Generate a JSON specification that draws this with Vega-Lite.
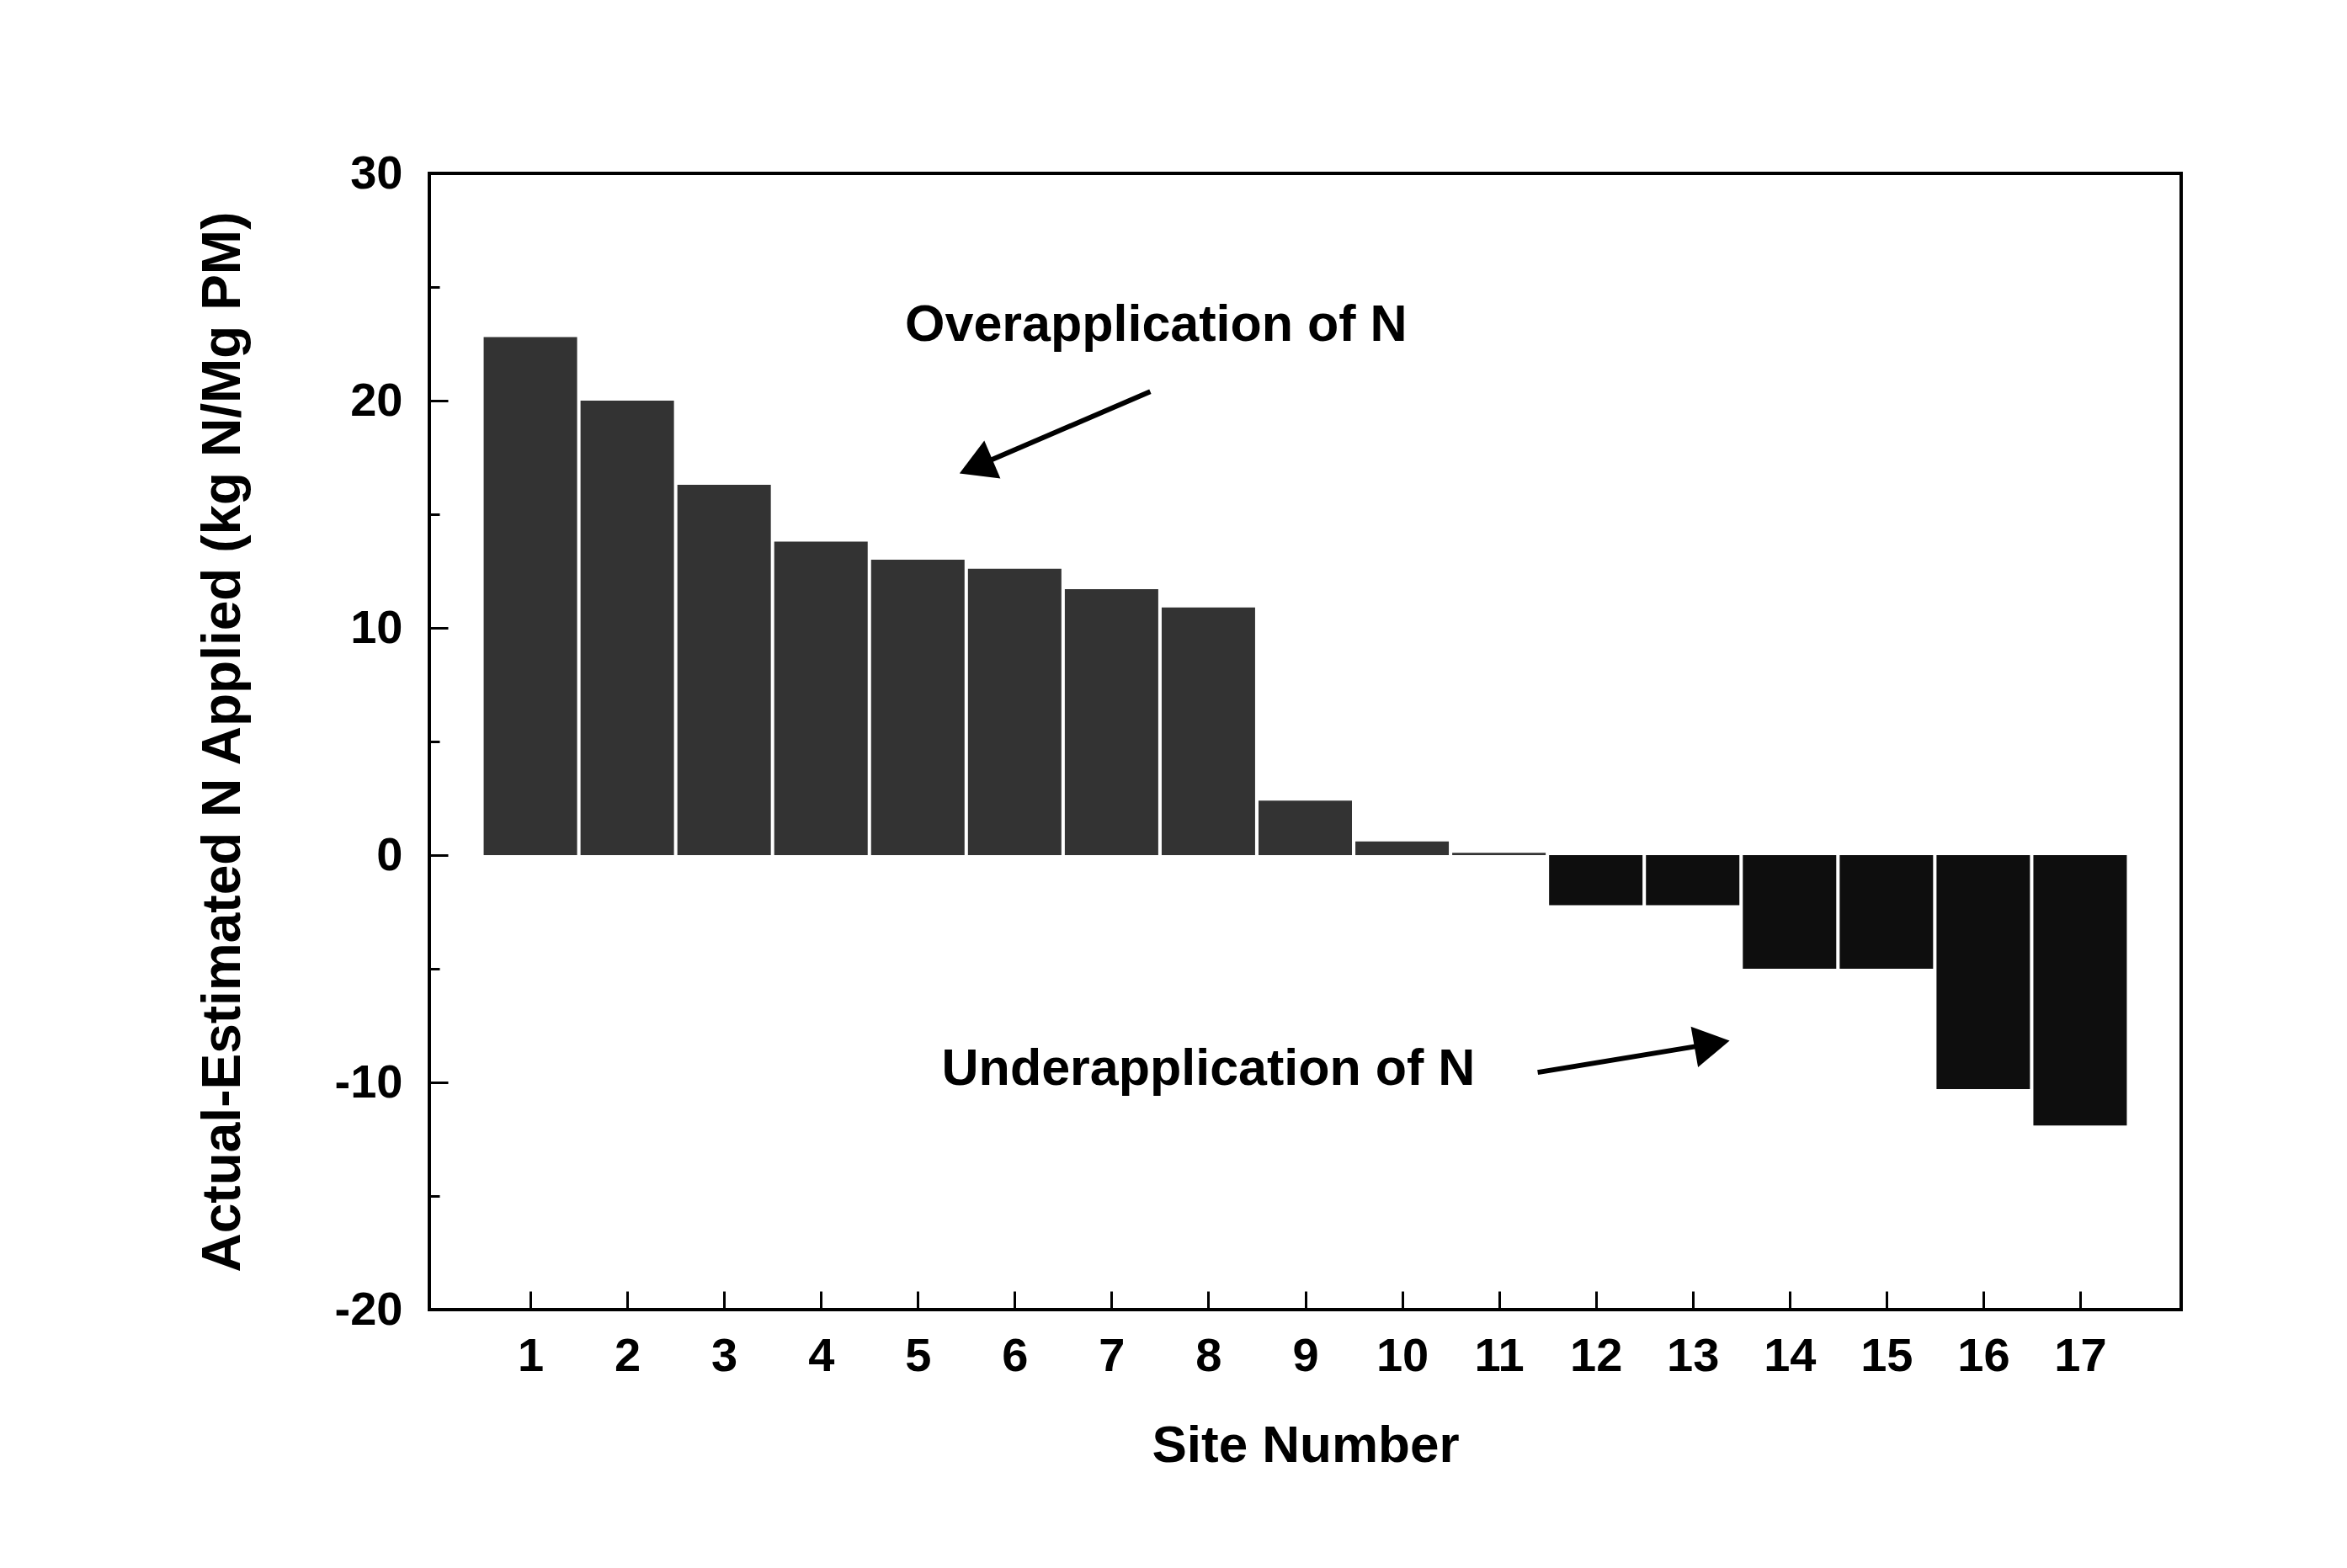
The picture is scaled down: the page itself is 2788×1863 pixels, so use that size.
{
  "$schema": "https://vega.github.io/schema/vega-lite/v6.json",
  "autosize": "none",
  "width": 2081,
  "height": 1350,
  "padding": {"left": 510, "top": 206, "right": 197, "bottom": 307},
  "background": "white",
  "config": {
    "view": {"stroke": "black", "strokeWidth": 4},
    "font": "Liberation Sans"
  },
  "datasets": {
    "sites": [
      {"site": 1, "value": 22.8},
      {"site": 2, "value": 20.0},
      {"site": 3, "value": 16.3},
      {"site": 4, "value": 13.8},
      {"site": 5, "value": 13.0},
      {"site": 6, "value": 12.6},
      {"site": 7, "value": 11.7},
      {"site": 8, "value": 10.9},
      {"site": 9, "value": 2.4},
      {"site": 10, "value": 0.6},
      {"site": 11, "value": 0.1},
      {"site": 12, "value": -2.2},
      {"site": 13, "value": -2.2},
      {"site": 14, "value": -5.0},
      {"site": 15, "value": -5.0},
      {"site": 16, "value": -10.3},
      {"site": 17, "value": -11.9}
    ]
  },
  "layer": [
    {
      "data": {"name": "sites"},
      "mark": {"type": "bar", "size": 111},
      "encoding": {
        "x": {
          "field": "site", "type": "quantitative",
          "scale": {"domain": [0, 18], "nice": false, "zero": false},
          "axis": {
            "values": [1,2,3,4,5,6,7,8,9,10,11,12,13,14,15,16,17],
            "format": "d",
            "domain": false,
            "grid": false,
            "tickSize": -22,
            "tickWidth": 3,
            "tickColor": "black",
            "labelFontSize": 56,
            "labelFontWeight": "bold",
            "labelColor": "black",
            "labelPadding": 50,
            "title": "Site Number",
            "titleFontSize": 62,
            "titleFontWeight": "bold",
            "titleColor": "black",
            "titlePadding": 48
          }
        },
        "y": {
          "field": "value", "type": "quantitative",
          "scale": {"domain": [-20, 30], "nice": false},
          "axis": {
            "values": [-20,-15,-10,-5,0,5,10,15,20,25,30],
            "labelExpr": "datum.value % 10 === 0 ? (datum.value < 0 ? '-' + abs(datum.value) : '' + datum.value) : ''",
            "domain": false,
            "grid": false,
            "tickSize": {"condition": {"test": "datum.value % 10 !== 0", "value": -12}, "value": -22},
            "tickWidth": 3,
            "tickColor": "black",
            "labelFontSize": 56,
            "labelFontWeight": "bold",
            "labelColor": "black",
            "labelPadding": 54,
            "title": "Actual-Estimated N Applied (kg N/Mg PM)",
            "titleFontSize": 64,
            "titleFontWeight": "bold",
            "titleColor": "black",
            "titlePadding": 100
          }
        },
        "color": {
          "condition": {"test": "datum.value < 0", "value": "#0e0e0e"},
          "value": "#333333"
        }
      }
    },
    {
      "mark": {"type": "rule", "color": "black", "strokeWidth": 4},
      "encoding": {"y": {"datum": 0}}
    },
    {
      "data": {"values": [{"x": 7.4, "y": 20.4, "x2": 5.6, "y2": 17.1}]},
      "mark": {"type": "rule", "color": "black", "strokeWidth": 6},
      "encoding": {
        "x": {"field": "x", "type": "quantitative"},
        "y": {"field": "y", "type": "quantitative"},
        "x2": {"field": "x2"},
        "y2": {"field": "y2"}
      }
    },
    {
      "data": {"values": [{"x": 5.6, "y": 17.1}]},
      "mark": {"type": "point", "shape": "triangle-up", "filled": true, "color": "black", "opacity": 1, "size": 2400, "angle": 247},
      "encoding": {
        "x": {"field": "x", "type": "quantitative"},
        "y": {"field": "y", "type": "quantitative"}
      }
    },
    {
      "data": {"values": [{"x": 11.4, "y": -9.56, "x2": 13.2, "y2": -8.3}]},
      "mark": {"type": "rule", "color": "black", "strokeWidth": 6},
      "encoding": {
        "x": {"field": "x", "type": "quantitative"},
        "y": {"field": "y", "type": "quantitative"},
        "x2": {"field": "x2"},
        "y2": {"field": "y2"}
      }
    },
    {
      "data": {"values": [{"x": 13.2, "y": -8.3}]},
      "mark": {"type": "point", "shape": "triangle-up", "filled": true, "color": "black", "opacity": 1, "size": 2400, "angle": 80},
      "encoding": {
        "x": {"field": "x", "type": "quantitative"},
        "y": {"field": "y", "type": "quantitative"}
      }
    },
    {
      "data": {"values": [
        {"label": "Overapplication of N", "x": 7.46, "y": 23.3},
        {"label": "Underapplication of N", "x": 8.0, "y": -9.43}
      ]},
      "mark": {"type": "text", "fontSize": 61, "fontWeight": "bold", "color": "black", "align": "center", "baseline": "middle"},
      "encoding": {
        "x": {"field": "x", "type": "quantitative"},
        "y": {"field": "y", "type": "quantitative"},
        "text": {"field": "label"}
      }
    }
  ]
}
